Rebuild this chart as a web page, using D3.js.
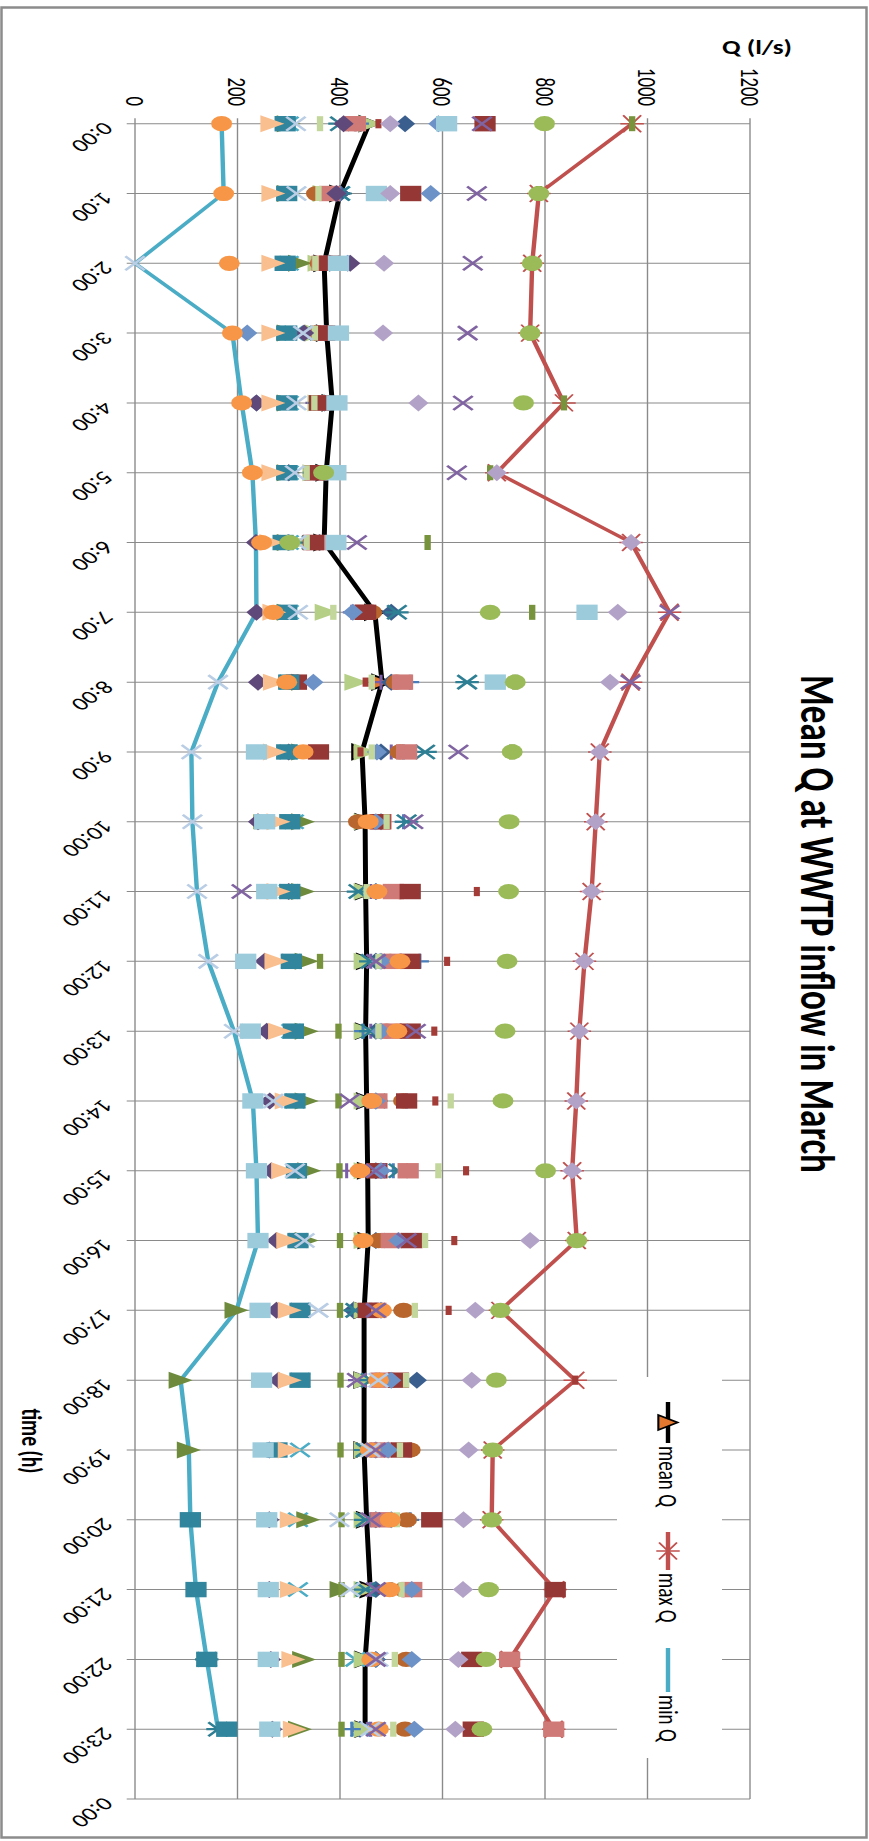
<!DOCTYPE html>
<html>
<head>
<meta charset="utf-8">
<script src="https://cdn.jsdelivr.net/npm/d3@7"></script>
<style>
html,body{margin:0;padding:0;background:#fff;}
svg{display:block;}
text{font-family:Calibri,Carlito,Lato,sans-serif;fill:#000;}
</style>
</head>
<body>
<svg id="chart" width="869" height="1841"></svg>
<script>
// ---- data -------------------------------------------------------------
const hourLabels = ["0:00","1:00","2:00","3:00","4:00","5:00","6:00","7:00","8:00","9:00","10:00","11:00",
  "12:00","13:00","14:00","15:00","16:00","17:00","18:00","19:00","20:00","21:00","22:00","23:00","0:00"];
const qTicks = [0,200,400,600,800,1000,1200];

const meanQ = [457,400,369,374,385,373,369,468,482,443,449,450,452,450,452,454,455,447,447,447,452,459,449,449];
const maxQ  = [970,788,775,771,837,706,968,1043,967,907,899,891,877,867,861,853,862,713,859,698,696,820,731,817];
const minQ  = [169,173,0,190,208,229,236,237,162,110,112,121,143,193,230,237,240,198,89,105,108,119,140,162];

// daily inflow series (l/s), one value per hour
const dayTealX       = [300,400,300,310,300,300,300,300,300,300,310,300,305,305,312,315,318,322,322,322,318,318,430,440];
const dayPurplePlus  = [430,390,370,360,350,350,350,423,480,500,470,460,460,460,460,413,530,460,433,460,460,460,460,460];
const dayDarkBlueDia = [527,400,380,370,370,370,360,500,500,480,480,470,470,470,470,470,470,426,550,470,470,470,470,439];
const dayLtGreenTri  = [459,370,360,355,360,350,320,374,432,450,450,450,450,450,450,450,450,450,450,450,450,450,450,450];
const dayRedDash     = [475,380,370,360,360,355,355,450,450,440,450,667,609,584,586,646,623,612,859,480,480,480,480,480];
const dayBluePlus    = [439,400,380,360,360,360,350,462,537,524,524,470,556,445,530,504,480,470,470,470,537,500,470,423];
const dayTealStar    = [400,400,380,360,360,350,345,511,648,566,530,436,460,460,470,514,470,430,460,450,450,450,140,162];
const dayGreenTri    = [300,300,322,300,300,300,300,300,328,328,328,328,335,335,335,340,335,198,89,105,338,403,330,322];
const dayBrownCircle = [430,354,361,361,360,365,358,462,510,517,436,517,498,491,524,462,475,524,500,537,530,524,529,527];
const dayPinkSq      = [430,380,365,365,360,355,355,446,522,530,480,504,500,500,472,533,500,470,480,480,480,540,731,817];
const dayDarkRedSq   = [683,538,380,370,360,350,348,450,315,358,478,537,537,537,530,472,540,455,514,520,579,820,657,660];
const dayBlueDia     = [592,577,415,219,237,300,300,425,348,472,470,470,480,480,470,480,514,480,500,494,500,540,540,545];
const dayLtGreenDash = [361,358,352,351,350,335,335,387,462,462,491,452,475,475,616,592,566,546,529,517,511,520,507,504];
const dayGreenDash   = [970,788,775,771,837,693,571,775,742,736,237,300,361,397,397,399,400,400,401,401,403,403,403,403];
const dayPurpleDia   = [407,393,420,330,237,300,236,237,240,300,240,300,253,257,263,266,276,276,280,262,262,262,265,268];
const dayTealSq      = [293,296,293,296,296,296,289,296,300,296,302,302,305,309,312,315,318,322,322,277,108,119,140,179];
const dayPeachTri    = [268,270,270,270,270,270,266,272,273,273,280,280,276,283,296,289,299,302,302,302,306,306,309,312];
const dayOrangeCirc  = [169,173,184,190,208,229,247,270,296,328,455,472,517,511,462,439,445,481,475,459,498,497,462,475];
const dayPaleX       = [314,315,0,328,315,312,315,318,162,110,112,121,143,193,270,312,331,358,475,459,399,420,475,459];
const dayLtBlueSq    = [608,471,397,397,394,392,392,882,703,237,253,257,216,225,230,237,240,244,247,250,257,260,260,263];
const dayPurpleX     = [677,667,659,649,640,628,433,1043,967,631,543,208,470,548,419,470,530,470,433,470,460,470,470,470];
const dayLilacDia    = [498,498,486,484,553,706,968,942,927,907,899,891,877,867,861,853,771,664,657,651,641,640,631,625];
const dayGreenCircle = [799,788,775,771,758,368,302,693,742,736,730,729,726,722,718,801,862,713,705,698,696,690,685,677];

// drawing order (back to front) with marker styles
const daily = [
  {v: dayTealX,       m: "x",         c: "#4BACC6"},
  {v: dayPurplePlus,  m: "plus",      c: "#7A5FA8"},
  {v: dayDarkBlueDia, m: "diamond",   c: "#3A5F8F"},
  {v: dayLtGreenTri,  m: "triangle",  c: "#B5CF86"},
  {v: dayRedDash,     m: "shortdash", c: "#A33B37"},
  {v: dayBluePlus,    m: "plus",      c: "#4A7EBB"},
  {v: dayTealStar,    m: "star",      c: "#2E7F93"},
  {v: dayGreenTri,    m: "triangle",  c: "#6E8B3D"},
  {v: dayBrownCircle, m: "circle",    c: "#B8662E"},
  {v: dayPinkSq,      m: "square",    c: "#D07A77"},
  {v: dayDarkRedSq,   m: "square",    c: "#953735"},
  {v: dayBlueDia,     m: "diamond",   c: "#6D92C8"},
  {v: dayLtGreenDash, m: "dash",      c: "#C3D69B"},
  {v: dayGreenDash,   m: "dash",      c: "#77933C"},
  {v: dayPurpleDia,   m: "diamond",   c: "#5F497A"},
  {v: dayTealSq,      m: "square",    c: "#31859C"},
  {v: dayPeachTri,    m: "triangle",  c: "#FABF8F"},
  {v: dayOrangeCirc,  m: "circle",    c: "#F79646"},
  {v: dayPaleX,       m: "x",         c: "#B9CDE5"},
  {v: dayLtBlueSq,    m: "square",    c: "#9CCBDC"},
  {v: dayPurpleX,     m: "x",         c: "#8064A2"},
  {v: dayLilacDia,    m: "diamond",   c: "#B3A2C7"},
  {v: dayGreenCircle, m: "circle",    c: "#9BBB59"}
];

// ---- layout -----------------------------------------------------------
const W = 869, H = 1841;
const SX = 1.38;                      // horizontal stretch of the whole drawing
const svg = d3.select("#chart");
svg.append("rect").attr("width", W).attr("height", H).attr("fill", "#fff");
svg.append("rect").attr("x", 1.5).attr("y", 7.5).attr("width", 865).attr("height", 1830)
  .attr("fill", "none").attr("stroke", "#8c8c8c").attr("stroke-width", 2.5);

const g = svg.append("g").attr("transform", `scale(${SX},1)`);
const x = d3.scaleLinear().domain([0, 1200]).range([135 / SX, 750 / SX]);
const y = d3.scaleLinear().domain([0, 24]).range([123.7, 1799]);
const gridColor = "#8a8a8a";

// vertical grid (Q values) with outer tick marks above the plot
g.append("g").selectAll("line").data(qTicks).join("line")
  .attr("x1", d => x(d)).attr("x2", d => x(d))
  .attr("y1", y(0) - 5.5).attr("y2", y(24))
  .attr("stroke", gridColor).attr("stroke-width", 1);

// horizontal grid (hours) with outer tick marks left of the plot
g.append("g").selectAll("line").data(d3.range(25)).join("line")
  .attr("x1", x(0) - 6).attr("x2", x(1200))
  .attr("y1", d => y(d)).attr("y2", d => y(d))
  .attr("stroke", gridColor).attr("stroke-width", 1);

// helper: fit text to a target length along its reading direction
function fit(sel, target) {
  const fs = parseFloat(sel.attr("font-size"));
  const len = sel.node().getComputedTextLength();
  if (len > 0) sel.attr("font-size", fs * target / len);
  return sel;
}

// Q tick labels
const qLab = g.append("g").selectAll("text").data(qTicks).join("text")
  .attr("transform", d => `translate(${x(d)},106) rotate(90)`)
  .attr("text-anchor", "end").attr("dominant-baseline", "central")
  .attr("font-size", 16).text(d => d);
const refLen = qLab.filter(d => d === 1000).node().getComputedTextLength();
const tickFs = 16 * 38 / refLen;
qLab.attr("font-size", tickFs);

// time tick labels
g.append("g").selectAll("text").data(hourLabels).join("text")
  .attr("transform", (d, i) => `translate(${79},${y(i) + 2}) rotate(135)`)
  .attr("text-anchor", "start").attr("dominant-baseline", "central")
  .attr("font-size", tickFs).text(d => d);

// axis titles and chart title
fit(g.append("text").attr("transform", `translate(${757 / SX},47)`)
  .attr("text-anchor", "middle").attr("dominant-baseline", "central")
  .attr("font-weight", "bold").attr("font-size", 20).text("Q (l/s)"), 70 / SX);

fit(g.append("text").attr("transform", `translate(${32 / SX},1441) rotate(90)`)
  .attr("text-anchor", "middle").attr("dominant-baseline", "central")
  .attr("font-weight", "bold").attr("font-size", 20).text("time (h)"), 65);

fit(g.append("text").attr("transform", `translate(${818 / SX},924) rotate(90)`)
  .attr("text-anchor", "middle").attr("dominant-baseline", "central")
  .attr("font-weight", "bold").attr("font-size", 34).text("Mean Q at WWTP inflow in March"), 498);

// ---- markers ----------------------------------------------------------
const markerPaths = {
  circle: "M-7.6,0A7.6,7.6 0 1,0 7.6,0A7.6,7.6 0 1,0 -7.6,0Z",
  square: "M-7.7,-7.7H7.7V7.7H-7.7Z",
  triangle: "M8.7,0L-8.7,-8.5L-8.7,8.5Z",
  diamond: "M0,-8.5L7.3,0L0,8.5L-7.3,0Z",
  dash: "M-2.3,-7.5H2.3V7.5H-2.3Z",
  shortdash: "M-2.2,-4.6H2.2V4.6H-2.2Z",
  x: "M-7,-7L7,7M-7,7L7,-7",
  star: "M-7,-7L7,7M-7,7L7,-7M-8.5,0H8.5",
  plus: "M-6.5,0H6.5M0,-7.5V7.5"
};
const isStroked = m => m === "x" || m === "star" || m === "plus";
const meanMarker = "M7,0L-7,-7.5L-7,7.5Z";
const maxMarker = "M-6.5,-8.5L6.5,8.5M-6.5,8.5L6.5,-8.5M-8.5,0H8.5";

const line = d3.line().x(d => x(d.q)).y(d => y(d.h));
const pts = arr => arr.map((q, h) => ({q, h}));

// mean
g.append("path").datum(pts(meanQ)).attr("d", line)
  .attr("fill", "none").attr("stroke", "#000").attr("stroke-width", 3.6).attr("stroke-linejoin", "round");
g.append("g").selectAll("path").data(pts(meanQ)).join("path")
  .attr("transform", d => `translate(${x(d.q)},${y(d.h)})`).attr("d", meanMarker)
  .attr("fill", "#E2782F").attr("stroke", "#000").attr("stroke-width", 1.7);

// max
g.append("path").datum(pts(maxQ)).attr("d", line)
  .attr("fill", "none").attr("stroke", "#C0504D").attr("stroke-width", 3.2).attr("stroke-linejoin", "round");
g.append("g").selectAll("path").data(pts(maxQ)).join("path")
  .attr("transform", d => `translate(${x(d.q)},${y(d.h)})`).attr("d", maxMarker)
  .attr("fill", "none").attr("stroke", "#C0504D").attr("stroke-width", 1.5);

// min
g.append("path").datum(pts(minQ)).attr("d", line)
  .attr("fill", "none").attr("stroke", "#4BACC6").attr("stroke-width", 3.2).attr("stroke-linejoin", "round");

// daily series markers
daily.forEach(s => {
  g.append("g").selectAll("path").data(pts(s.v)).join("path")
    .attr("transform", d => `translate(${x(d.q)},${y(d.h)})`)
    .attr("d", markerPaths[s.m])
    .attr("fill", isStroked(s.m) ? "none" : s.c)
    .attr("stroke", isStroked(s.m) ? s.c : "none")
    .attr("stroke-width", isStroked(s.m) ? 2.2 : 0);
});

// ---- legend -----------------------------------------------------------
const lg = g.append("g");
lg.append("rect").attr("x", 617 / SX).attr("y", 1377).attr("width", 105 / SX).attr("height", 381).attr("fill", "#fff");
const lx = 668 / SX;
const legendItems = [
  {label: "mean Q", color: "#000", y0: 1402, y1: 1443, marker: meanMarker, fill: "#E2782F", stroke: "#000", sw: 1.5},
  {label: "max Q", color: "#C0504D", y0: 1532, y1: 1570, marker: maxMarker, fill: "none", stroke: "#C0504D", sw: 1.4},
  {label: "min Q", color: "#4BACC6", y0: 1648, y1: 1692, marker: null}
];
let legendFs = null;
legendItems.forEach(it => {
  lg.append("line").attr("x1", lx).attr("x2", lx).attr("y1", it.y0).attr("y2", it.y1)
    .attr("stroke", it.color).attr("stroke-width", 3.2);
  if (it.marker) {
    lg.append("path").attr("transform", `translate(${lx},${(it.y0 + it.y1) / 2})`)
      .attr("d", it.marker).attr("fill", it.fill).attr("stroke", it.stroke).attr("stroke-width", it.sw);
  }
  const t = lg.append("text").attr("transform", `translate(${lx},${it.y1 + 3}) rotate(90)`)
    .attr("text-anchor", "start").attr("dominant-baseline", "central")
    .attr("font-size", legendFs || 18).text(it.label);
  if (!legendFs) { fit(t, 61); legendFs = parseFloat(t.attr("font-size")); }
});
</script>
</body>
</html>
